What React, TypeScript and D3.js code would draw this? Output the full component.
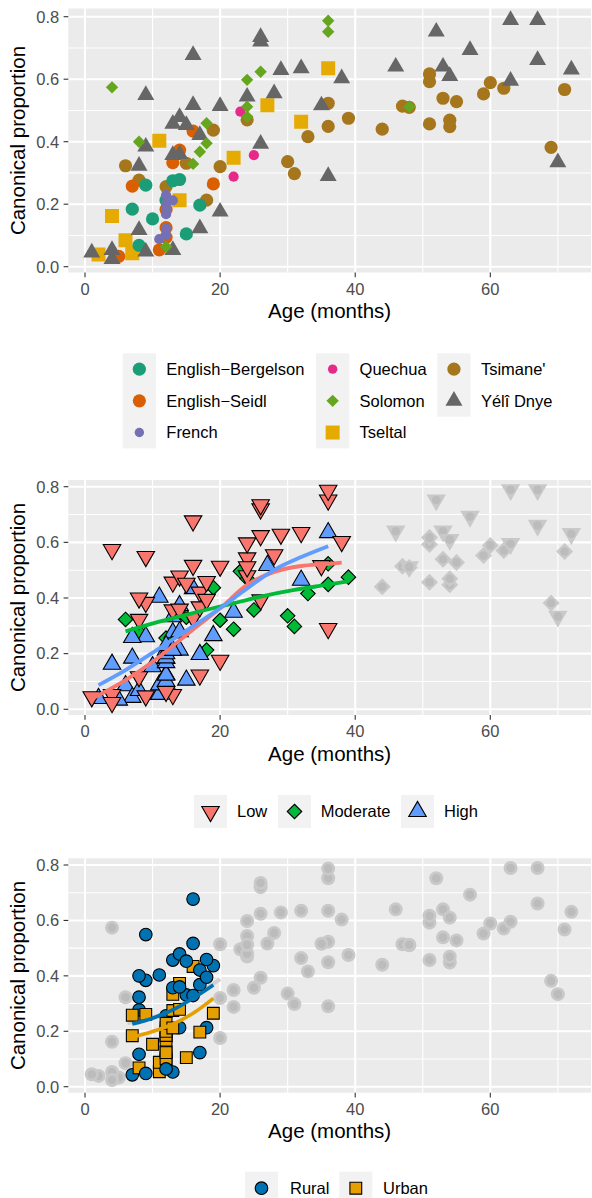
import React from "react";
import * as d3 from "d3";

const W = 592;
const H = 1198;
const FONT = "'Liberation Sans', Arial, Helvetica, sans-serif";

// ---------- data: (age in months, canonical proportion) per language ----------
const languageNames = [
  "English−Bergelson",
  "English−Seidl",
  "French",
  "Quechua",
  "Solomon",
  "Tseltal",
  "Tsimane'",
  "Yélî Dnye",
];
const languageColors = ["#1B9E77", "#D95F02", "#7570B3", "#E7298A", "#66A61E", "#E6AB02", "#A6761D", "#666666"];
const languageShapes = ["circle", "circle", "smallCircle", "smallCircle", "diamond", "square", "circle", "triUp"];

const englishBergelson = [
  [7, 0.184], [8, 0.068], [9, 0.261], [10, 0.153], [12, 0.213], [13, 0.275], [14, 0.279], [15, 0.105], [17, 0.197],
];
const englishSeidl = [
  [5, 0.033], [7, 0.258], [11, 0.054], [12, 0.094], [12, 0.125], [12, 0.183], [13, 0.333], [14, 0.373], [16, 0.434], [19, 0.265],
];
const french = [
  [11, 0.088], [12, 0.101], [12, 0.123], [12, 0.168], [12, 0.185], [12, 0.2], [12, 0.229], [13, 0.212],
];
const quechua = [
  [22, 0.288], [23, 0.496], [25, 0.357],
];
const solomon = [
  [4, 0.574], [8, 0.4], [12, 0.064], [16, 0.329], [17, 0.368], [18, 0.395], [18, 0.459], [24, 0.48], [24, 0.512],
  [24, 0.598], [26, 0.624], [36, 0.752], [36, 0.787], [48, 0.512],
];
const tseltal = [
  [2, 0.039], [4, 0.162], [6, 0.085], [7, 0.043], [11, 0.403], [14, 0.213], [22, 0.349], [27, 0.517], [32, 0.464], [36, 0.635],
];
const tsimane = [
  [6, 0.323], [8, 0.277], [12, 0.256], [15, 0.331], [18, 0.213], [19, 0.437], [20, 0.32], [24, 0.47], [30, 0.336],
  [31, 0.298], [33, 0.416], [36, 0.449], [36, 0.523], [39, 0.475], [44, 0.44], [47, 0.514], [48, 0.51], [51, 0.457],
  [51, 0.592], [51, 0.617], [53, 0.539], [54, 0.448], [54, 0.469], [55, 0.528], [59, 0.553], [60, 0.589], [62, 0.571],
  [69, 0.382], [71, 0.567],
];
const yeliDnye = [
  [1, 0.045], [4, 0.053], [4, 0.024], [8, 0.117], [8, 0.323], [9, 0.048], [9, 0.384], [9, 0.549], [13, 0.053],
  [13, 0.357], [13, 0.457], [14, 0.36], [14, 0.479], [15, 0.453], [16, 0.517], [16, 0.677], [17, 0.123], [17, 0.421],
  [20, 0.176], [20, 0.514], [24, 0.544], [26, 0.393], [26, 0.72], [26, 0.735], [28, 0.555], [29, 0.629], [32, 0.635],
  [35, 0.516], [36, 0.29], [38, 0.603], [46, 0.64], [52, 0.752], [53, 0.64], [54, 0.61], [57, 0.693], [63, 0.595],
  [63, 0.789], [67, 0.661], [67, 0.789], [70, 0.334], [72, 0.631],
];
const languageData = [englishBergelson, englishSeidl, french, quechua, solomon, tseltal, tsimane, yeliDnye];
const drawOrder = ["Tsimane'", "Tseltal", "English−Bergelson", "English−Seidl", "Yélî Dnye", "French", "Quechua", "Solomon"];

// ---------- panel 2: exposure groups ----------
const exposureLevels = ["Low", "Moderate", "High"];
const exposureColors = ["#F8766D", "#00BA38", "#619CFF"];
const exposureShapes = ["triDown", "diamond", "triUp"];
const lowLanguages = ["Solomon", "Yélî Dnye"];
const moderateLanguages = ["Quechua", "Tsimane'"];
const highLanguages = ["English−Bergelson", "English−Seidl", "French", "Tseltal"];
const exposureMaxAge = 40;
const lowFit = [[1, 0.038], [6, 0.105], [11, 0.189], [16, 0.287], [20, 0.363], [24, 0.447], [28, 0.494], [32, 0.515], [35.7, 0.522], [38, 0.527]];
const moderateFit = [[6, 0.28], [11, 0.315], [16, 0.346], [21, 0.375], [26, 0.405], [31, 0.429], [35.7, 0.447], [39, 0.46]];
const highFit = [[2, 0.087], [6, 0.141], [11, 0.219], [16, 0.299], [20, 0.363], [24, 0.434], [28, 0.501], [32, 0.547], [36, 0.586]];

// ---------- panel 3: setting ----------
const settingLevels = ["Rural", "Urban"];
const settingColors = ["#0072B2", "#E69F00"];
const settingShapes = ["circle", "square"];
const ruralLanguages = ["Solomon", "Tseltal", "Tsimane'", "Yélî Dnye"];
const urbanLanguages = ["English−Bergelson", "English−Seidl", "French"];
const settingAgeRange = [7, 19];
const overallFit = [[6.3, 0.229], [10, 0.25], [13, 0.28], [16, 0.325], [20, 0.388]];
const ruralFit = [[7, 0.226], [10, 0.247], [13, 0.277], [16, 0.319], [19, 0.367]];
const urbanFit = [[7, 0.178], [10, 0.199], [13, 0.226], [16, 0.265], [19, 0.319]];

const xTicks = [0, 20, 40, 60];
const xMinor = [10, 30, 50, 70];
const yTicks = [0, 0.2, 0.4, 0.6, 0.8];
const yMinor = [0.1, 0.3, 0.5, 0.7];

// ---------- layout ----------
const PANEL_L = 68.3;
const PANEL_R = 591;
const x = d3.scaleLinear().domain([0, 60]).range([85, 490.3]);

const panels = [
  { top: 8.5, bottom: 272.5, y0: 266.7, y8: 16.7 },
  { top: 480, bottom: 715, y0: 709.3, y8: 486.7 },
  { top: 858.3, bottom: 1092.7, y0: 1086.7, y8: 865 },
];

function shapePath(kind: string, cx: number, cy: number, s: number): string {
  if (kind === "triUp" || kind === "triDown") {
    const h = (s * Math.sqrt(3)) / 2;
    if (kind === "triUp")
      return `M${cx},${cy - (2 * h) / 3}L${cx + s / 2},${cy + h / 3}L${cx - s / 2},${cy + h / 3}Z`;
    return `M${cx},${cy + (2 * h) / 3}L${cx + s / 2},${cy - h / 3}L${cx - s / 2},${cy - h / 3}Z`;
  }
  if (kind === "diamond") {
    const a = s / 2;
    return `M${cx},${cy - a}L${cx + a},${cy}L${cx},${cy + a}L${cx - a},${cy}Z`;
  }
  const a = s / 2;
  return `M${cx - a},${cy - a}H${cx + a}V${cy + a}H${cx - a}Z`;
}

function Mark({ kind, cx, cy, fill, stroke, size }: any) {
  if (kind === "circle" || kind === "smallCircle") {
    return <circle cx={cx} cy={cy} r={size} fill={fill} stroke={stroke || "none"} strokeWidth={stroke ? 1.1 : 0} />;
  }
  return <path d={shapePath(kind, cx, cy, size)} fill={fill} stroke={stroke || "none"} strokeWidth={stroke ? 1.1 : 0} strokeLinejoin="miter" />;
}

function p1Size(kind: string) {
  if (kind === "circle") return 6.6;
  if (kind === "smallCircle") return 5.1;
  if (kind === "triUp") return 17;
  if (kind === "square") return 14;
  if (kind === "diamond") return 12.4;
  return 6;
}
function p2Size(kind: string) {
  if (kind === "diamond") return 14.5;
  return 17.5;
}

function langIndex(name: string) {
  return languageNames.indexOf(name);
}

function Panel({ p, children }: any) {
  const y = d3.scaleLinear().domain([0, 0.8]).range([p.y0, p.y8]);
  return (
    <g>
      <rect x={PANEL_L} y={p.top} width={PANEL_R - PANEL_L} height={p.bottom - p.top} fill="#EBEBEB" />
      {xMinor.map((v) => (
        <line key={"xm" + v} x1={x(v)} x2={x(v)} y1={p.top} y2={p.bottom} stroke="#FFFFFF" strokeWidth={1.1} />
      ))}
      {yMinor.map((v) => (
        <line key={"ym" + v} x1={PANEL_L} x2={PANEL_R} y1={y(v)} y2={y(v)} stroke="#FFFFFF" strokeWidth={1.1} />
      ))}
      {xTicks.map((v) => (
        <line key={"xM" + v} x1={x(v)} x2={x(v)} y1={p.top} y2={p.bottom} stroke="#FFFFFF" strokeWidth={2.1} />
      ))}
      {yTicks.map((v) => (
        <line key={"yM" + v} x1={PANEL_L} x2={PANEL_R} y1={y(v)} y2={y(v)} stroke="#FFFFFF" strokeWidth={2.1} />
      ))}
      <svg x={PANEL_L} y={p.top} width={PANEL_R - PANEL_L} height={p.bottom - p.top} overflow="hidden">
        <g transform={`translate(${-PANEL_L},${-p.top})`}>{children(y)}</g>
      </svg>
      {xTicks.map((v) => (
        <g key={"xt" + v}>
          <line x1={x(v)} x2={x(v)} y1={p.bottom} y2={p.bottom + 4.7} stroke="#333333" strokeWidth={1.1} />
          <text x={x(v)} y={p.bottom + 22.3} textAnchor="middle" fontSize={16.5} fill="#4D4D4D" fontFamily={FONT}>
            {v}
          </text>
        </g>
      ))}
      {yTicks.map((v) => (
        <g key={"yt" + v}>
          <line x1={PANEL_L - 4.7} x2={PANEL_L} y1={y(v)} y2={y(v)} stroke="#333333" strokeWidth={1.1} />
          <text x={PANEL_L - 9} y={y(v) + 5.8} textAnchor="end" fontSize={16.5} fill="#4D4D4D" fontFamily={FONT}>
            {v.toFixed(1)}
          </text>
        </g>
      ))}
      <text x={(PANEL_L + PANEL_R) / 2} y={p.bottom + 45.5} textAnchor="middle" fontSize={20.5} fill="#000" fontFamily={FONT}>
        Age (months)
      </text>
      <text
        transform={`translate(25,${(p.top + p.bottom) / 2}) rotate(-90)`}
        textAnchor="middle"
        fontSize={20.5}
        fill="#000"
        fontFamily={FONT}
      >
        Canonical proportion
      </text>
    </g>
  );
}

const line = (y: any) =>
  d3
    .line<number[]>()
    .x((d) => x(d[0]))
    .y((d) => y(d[1]))
    .curve(d3.curveMonotoneX);

export default function App() {
  // Panel 1 marks
  const p1 = (y: any) =>
    drawOrder.map((name) => {
      const i = langIndex(name);
      const kind = languageShapes[i];
      return (
        <g key={name}>
          {languageData[i].map((d, j) => (
            <Mark key={j} kind={kind} cx={x(d[0])} cy={y(d[1])} fill={languageColors[i]} size={p1Size(kind)} />
          ))}
        </g>
      );
    });

  const exposureOf = (name: string) =>
    lowLanguages.includes(name) ? 0 : moderateLanguages.includes(name) ? 1 : highLanguages.includes(name) ? 2 : -1;

  const p2 = (y: any) => {
    const grey: any[] = [];
    const colored: any[] = [];
    drawOrder.forEach((name) => {
      const i = langIndex(name);
      const g = exposureOf(name);
      languageData[i].forEach((d, j) => {
        const kind = exposureShapes[g];
        if (d[0] > exposureMaxAge) {
          grey.push(
            <g key={name + j}>
              <path d={shapePath(kind, x(d[0]), y(d[1]), kind === "diamond" ? 17 : 19.5)} fill="#C9C9C9" />
              <circle cx={x(d[0])} cy={y(d[1])} r={4.3} fill="#BCBCBC" />
            </g>
          );
        } else {
          colored.push(
            <Mark key={name + j} kind={kind} cx={x(d[0])} cy={y(d[1])} fill={exposureColors[g]} stroke="#000" size={p2Size(kind)} />
          );
        }
      });
    });
    const fits = [lowFit, moderateFit, highFit];
    return (
      <g>
        {grey}
        {colored}
        {fits.map((f, k) => (
          <path key={k} d={line(y)(f) || ""} fill="none" stroke={exposureColors[k]} strokeWidth={3.8} />
        ))}
      </g>
    );
  };

  const settingOf = (name: string) => (ruralLanguages.includes(name) ? 0 : urbanLanguages.includes(name) ? 1 : -1);

  const p3 = (y: any) => {
    const grey: any[] = [];
    const colored: any[] = [];
    drawOrder.forEach((name) => {
      const i = langIndex(name);
      const s = settingOf(name);
      languageData[i].forEach((d, j) => {
        const inRange = s >= 0 && d[0] >= settingAgeRange[0] && d[0] <= settingAgeRange[1];
        if (!inRange) {
          grey.push(
            <g key={name + j}>
              <circle cx={x(d[0])} cy={y(d[1])} r={7} fill="#C9C9C9" />
              <circle cx={x(d[0])} cy={y(d[1])} r={4.3} fill="#BCBCBC" />
            </g>
          );
        } else {
          const kind = settingShapes[s];
          colored.push(
            <Mark key={name + j} kind={kind} cx={x(d[0])} cy={y(d[1])} fill={settingColors[s]} stroke="#000" size={kind === "circle" ? 6.3 : 11.8} />
          );
        }
      });
    });
    return (
      <g>
        {grey}
        <path d={line(y)(overallFit) || ""} fill="none" stroke="#D0D0D0" strokeWidth={3.8} />
        {colored}
        <path d={line(y)(ruralFit) || ""} fill="none" stroke={settingColors[0]} strokeWidth={3.6} />
        <path d={line(y)(urbanFit) || ""} fill="none" stroke={settingColors[1]} strokeWidth={3.6} />
      </g>
    );
  };

  // Legend 1 layout (3 rows, column-major)
  const leg1ColX = [122.7, 316, 437.3];
  const leg1RowY = [353.3, 385, 416.7];
  const keyW = 33.3;
  const keyH = 31.7;

  const leg2X = [194, 278, 401];
  const leg2TextX = [237, 320.7, 444];
  const leg3X = [245, 339.3];
  const leg3TextX = [290, 383];

  return (
    <svg width={W} height={H} style={{ position: "absolute", left: 0, top: 0, background: "#fff" }} fontFamily={FONT}>
      <rect width={W} height={H} fill="#FFFFFF" />
      <Panel p={panels[0]}>{p1}</Panel>
      <Panel p={panels[1]}>{p2}</Panel>
      <Panel p={panels[2]}>{p3}</Panel>

      {/* Legend 1 */}
      {leg1ColX.map((cx, c) => {
        const rows = c < 2 ? 3 : 2;
        return <rect key={"lb" + c} x={cx} y={leg1RowY[0]} width={keyW} height={keyH * rows} fill="#F2F2F2" />;
      })}
      {languageNames.map((name, i) => {
        const col = Math.floor(i / 3);
        const row = i % 3;
        const kx = leg1ColX[col] + keyW / 2;
        const ky = leg1RowY[row] + keyH / 2;
        const kind = languageShapes[i];
        const size = kind === "smallCircle" ? 4.7 : kind === "circle" ? 6.6 : p1Size(kind);
        return (
          <g key={"l1" + name}>
            <Mark kind={kind} cx={kx} cy={ky} fill={languageColors[i]} size={size} />
            <text x={leg1ColX[col] + keyW + 10.3} y={ky + 5.8} fontSize={16.5} fill="#000" fontFamily={FONT}>
              {name}
            </text>
          </g>
        );
      })}

      {/* Legend 2 */}
      {exposureLevels.map((lv, i) => (
        <g key={"l2" + lv}>
          <rect x={leg2X[i]} y={795} width={33} height={33} fill="#F2F2F2" />
          <Mark kind={exposureShapes[i]} cx={leg2X[i] + 16.5} cy={811.5} fill={exposureColors[i]} stroke="#000" size={p2Size(exposureShapes[i])} />
          <text x={leg2TextX[i]} y={811.5 + 5.8} fontSize={16.5} fill="#000" fontFamily={FONT}>
            {lv}
          </text>
        </g>
      ))}

      {/* Legend 3 */}
      {settingLevels.map((lv, i) => (
        <g key={"l3" + lv}>
          <rect x={leg3X[i]} y={1171.7} width={33} height={33} fill="#F2F2F2" />
          <Mark
            kind={settingShapes[i]}
            cx={leg3X[i] + 16.5}
            cy={1188.2}
            fill={settingColors[i]}
            stroke="#000"
            size={settingShapes[i] === "circle" ? 6.3 : 11.8}
          />
          <text x={leg3TextX[i]} y={1188.2 + 5.8} fontSize={16.5} fill="#000" fontFamily={FONT}>
            {lv}
          </text>
        </g>
      ))}
    </svg>
  );
}
